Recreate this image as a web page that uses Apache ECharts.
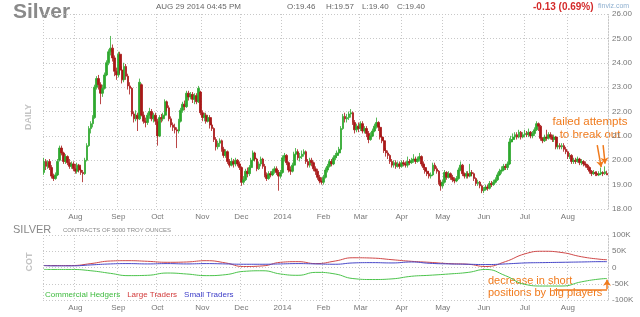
<!DOCTYPE html>
<html><head><meta charset="utf-8">
<script src="https://cdn.jsdelivr.net/npm/echarts@6/dist/echarts.min.js"></script>
<style>html,body{margin:0;padding:0;background:#fff}#c{width:640px;height:317px}</style>
</head><body><div id="c"></div>
<script>
const startDate = '2013-07-10', endDate = '2014-08-29';
const holidays = ['2013-09-02','2013-11-28','2013-12-25','2014-01-01','2014-01-20','2014-02-17','2014-04-18','2014-05-26','2014-07-04'];
const monthNames = ['Jan','Feb','Mar','Apr','May','Jun','Jul','Aug','Sep','Oct','Nov','Dec'];

// daily candles: [open, close, low, high]
const jul2013 = [[19.50,19.95,19.40,20.10],[19.95,19.75,19.60,20.05],[19.75,19.90,19.65,20.00],[19.95,19.70,19.60,20.05],[19.70,19.35,19.25,19.80],[19.35,19.25,19.15,19.45],[19.25,19.40,19.20,19.50],[19.40,19.95,19.35,20.05],[20.00,20.50,19.95,20.60],[20.50,20.30,20.20,20.60],[20.30,19.95,19.85,20.35],[19.95,20.15,19.85,20.25],[20.15,19.90,19.80,20.20],[19.90,19.75,19.65,20.05],[19.75,19.85,19.65,19.95],[19.85,19.65,19.55,19.95]];
const aug2013 = [[19.65,19.55,19.45,19.85],[19.55,19.80,19.45,19.90],[19.80,19.60,19.50,19.85],[19.60,19.50,19.40,19.70],[19.50,19.45,19.10,19.60],[19.45,20.00,19.40,20.10],[20.00,20.60,19.95,20.70],[20.60,21.30,20.55,21.40],[21.30,21.50,21.10,21.60],[21.50,21.75,21.35,21.85],[21.75,23.00,21.70,23.10],[23.00,23.35,22.90,23.45],[23.35,23.10,22.90,23.50],[23.10,22.75,22.30,23.20],[22.75,22.95,22.60,23.10],[22.95,23.50,22.90,23.60],[23.50,24.00,23.45,24.10],[24.00,24.45,23.90,24.55],[24.45,24.60,24.30,25.10],[24.60,24.20,24.05,24.75],[24.20,23.65,23.45,24.30],[23.65,23.50,23.30,23.80]];
const sep2013 = [[23.50,24.35,23.40,24.45],[24.35,23.70,23.55,24.45],[23.70,23.30,23.15,23.85],[23.30,23.85,23.20,24.00],[23.85,23.45,23.30,23.95],[23.45,23.05,22.90,23.55],[23.05,22.95,22.70,23.20],[22.95,21.90,21.80,23.00],[21.90,21.70,21.55,22.00],[21.70,21.85,21.60,22.05],[21.85,21.70,21.20,21.95],[21.70,23.20,21.65,23.35],[23.10,21.85,21.80,23.15],[21.85,21.60,21.50,22.00],[21.60,21.55,21.35,21.75],[21.55,21.85,21.45,21.95],[21.85,22.00,21.70,22.15],[22.00,21.70,21.60,22.10],[21.70,21.85,21.55,21.95],[21.85,21.60,21.45,21.95]];
const oct2013 = [[21.60,21.00,20.60,21.70],[21.00,21.75,20.95,21.85],[21.75,21.70,21.55,21.90],[21.70,21.85,21.60,21.95],[21.85,22.40,21.80,22.50],[22.40,22.15,22.00,22.45],[22.15,21.70,21.60,22.25],[21.70,21.45,21.35,21.80],[21.45,21.35,21.20,21.55],[21.35,21.25,21.10,21.50],[21.25,21.20,20.50,21.35],[21.20,21.60,21.10,21.70],[21.60,22.05,21.55,22.15],[22.05,22.30,21.95,22.40],[22.30,22.20,22.05,22.45],[22.20,22.75,22.15,22.85],[22.75,22.60,22.45,22.85],[22.60,22.70,22.50,22.80],[22.70,22.50,22.35,22.80],[22.50,22.65,22.30,22.75],[22.65,22.40,22.30,22.75],[22.40,22.95,22.35,23.05],[22.80,21.95,21.85,22.85]];
const nov2013 = [[21.95,21.75,21.60,22.05],[21.75,21.85,21.60,21.95],[21.85,21.60,21.50,21.95],[21.60,21.75,21.55,21.85],[21.75,21.45,21.30,21.85],[21.45,21.30,21.20,21.55],[21.30,20.85,20.75,21.35],[20.85,20.55,20.40,20.95],[20.55,20.70,20.45,20.80],[20.70,20.80,20.55,20.90],[20.80,20.45,20.35,20.85],[20.45,20.20,20.10,20.55],[20.20,20.35,20.10,20.45],[20.35,19.95,19.85,20.40],[19.95,19.80,19.70,20.05],[19.80,19.95,19.75,20.10],[19.95,19.85,19.70,20.05],[19.85,20.00,19.75,20.10],[20.00,19.85,19.75,20.05],[19.85,19.70,19.60,19.95]];
const dec2013 = [[19.70,19.10,18.95,19.75],[19.10,19.20,19.00,19.35],[19.20,19.55,19.15,19.65],[19.55,19.45,19.30,19.70],[19.45,19.70,19.35,19.80],[19.70,20.00,19.60,20.10],[20.00,20.30,19.95,20.40],[20.30,20.05,19.95,20.35],[20.05,19.65,19.55,20.10],[19.65,19.85,19.60,19.95],[19.85,20.05,19.75,20.15],[20.05,19.75,19.65,20.10],[19.75,19.40,19.30,19.85],[19.40,19.25,19.15,19.50],[19.25,19.45,19.20,19.55],[19.45,19.40,19.30,19.55],[19.40,19.55,19.35,19.65],[19.55,19.65,19.45,19.75],[19.65,19.50,19.40,19.75],[19.50,19.35,18.75,19.60],[19.35,19.50,19.25,19.60]];
const jan2014 = [[19.50,20.10,19.45,20.20],[20.10,20.20,19.95,20.30],[20.20,19.90,19.80,20.25],[19.90,19.60,19.50,19.95],[19.60,19.55,19.40,19.75],[19.55,19.80,19.50,19.90],[19.80,20.25,19.75,20.35],[20.25,20.35,20.15,20.50],[20.35,20.10,20.00,20.45],[20.10,20.15,19.95,20.30],[20.15,20.25,20.05,20.40],[20.25,20.35,20.15,20.45],[20.35,19.95,19.85,20.40],[19.95,19.80,19.70,20.05],[19.80,20.00,19.70,20.10],[20.00,19.90,19.75,20.10],[19.90,19.65,19.55,19.95],[19.65,19.55,19.40,19.75],[19.55,19.30,19.20,19.65],[19.30,19.15,19.05,19.40],[19.15,19.10,19.00,19.30]];
const feb2014 = [[19.10,19.30,19.00,19.40],[19.30,19.60,19.25,19.70],[19.60,19.75,19.50,19.85],[19.75,19.95,19.70,20.05],[19.95,19.85,19.75,20.05],[19.85,20.10,19.80,20.20],[20.10,20.20,20.00,20.30],[20.20,20.30,20.10,20.40],[20.30,20.45,20.20,20.55],[20.45,21.30,20.40,21.40],[21.30,21.80,21.25,21.90],[21.80,21.70,21.55,21.95],[21.70,21.75,21.55,21.90],[21.75,21.90,21.65,22.00],[21.90,21.95,21.75,22.10],[21.95,21.55,21.45,22.00],[21.55,21.25,21.10,21.65],[21.25,21.40,21.15,21.50],[21.40,21.30,21.15,21.55]];
const mar2014 = [[21.30,21.50,21.20,21.60],[21.50,21.20,21.10,21.60],[21.20,21.30,21.10,21.40],[21.30,21.10,20.95,21.40],[21.10,20.85,20.70,21.20],[20.85,21.00,20.80,21.15],[21.00,21.20,20.95,21.30],[21.20,21.40,21.15,21.50],[21.40,21.55,21.30,21.75],[21.55,21.35,21.20,21.60],[21.35,20.95,20.85,21.40],[20.95,20.80,20.70,21.05],[20.80,20.40,20.30,20.90],[20.40,20.30,20.15,20.50],[20.30,20.20,20.05,20.40],[20.20,19.95,19.85,20.25],[19.95,19.80,19.70,20.05],[19.80,19.90,19.70,20.00],[19.90,19.75,19.65,20.00],[19.75,19.85,19.70,19.95],[19.85,19.75,19.65,19.95]];
const apr2014 = [[19.75,19.90,19.70,20.00],[19.90,19.85,19.75,20.00],[19.85,19.80,19.70,19.95],[19.80,19.95,19.70,20.15],[19.95,19.90,19.80,20.05],[19.90,20.00,19.85,20.10],[20.00,20.05,19.90,20.25],[20.05,19.95,19.85,20.15],[19.95,20.05,19.90,20.15],[20.05,20.15,19.95,20.30],[20.15,19.85,19.75,20.20],[19.85,19.70,19.60,19.95],[19.70,19.55,19.45,19.80],[19.55,19.45,19.35,19.65],[19.45,19.35,19.25,19.55],[19.35,19.40,19.25,19.50],[19.40,19.80,19.35,19.90],[19.80,19.65,19.55,19.90],[19.65,19.55,19.45,19.75],[19.55,19.10,19.00,19.60],[19.10,18.95,18.75,19.20]];
const may2014 = [[18.95,19.10,18.85,19.20],[19.10,19.50,19.05,19.60],[19.50,19.30,19.20,19.55],[19.30,19.45,19.25,19.55],[19.45,19.30,19.20,19.50],[19.30,19.20,19.10,19.40],[19.20,19.15,19.05,19.30],[19.15,19.25,19.10,19.35],[19.25,19.60,19.20,19.70],[19.60,19.80,19.55,19.95],[19.80,19.45,19.35,19.85],[19.45,19.35,19.25,19.50],[19.35,19.45,19.25,19.55],[19.45,19.35,19.25,19.55],[19.35,19.50,19.30,19.85],[19.50,19.45,19.35,19.60],[19.45,19.25,19.15,19.50],[19.25,19.05,18.95,19.30],[19.05,19.10,18.95,19.20],[19.10,18.95,18.85,19.15],[18.95,18.75,18.65,19.00]];
const jun2014 = [[18.75,18.80,18.65,18.90],[18.80,18.90,18.75,19.00],[18.90,18.85,18.75,19.00],[18.85,19.05,18.80,19.15],[19.05,19.00,18.90,19.15],[19.00,19.10,18.95,19.20],[19.10,19.20,19.05,19.30],[19.20,19.40,19.15,19.50],[19.40,19.55,19.35,19.65],[19.55,19.60,19.45,19.75],[19.60,19.75,19.55,19.85],[19.75,19.70,19.60,19.85],[19.70,19.85,19.60,19.95],[19.85,20.75,19.80,20.90],[20.75,20.85,20.65,21.00],[20.85,20.95,20.75,21.10],[20.95,21.05,20.85,21.15],[21.05,20.95,20.85,21.15],[20.95,21.15,20.90,21.25],[21.15,20.95,20.85,21.20],[20.95,21.05,20.90,21.15]];
const jul2014 = [[21.05,21.10,20.95,21.25],[21.10,21.05,20.95,21.20],[21.05,21.15,20.95,21.30],[21.15,21.00,20.90,21.20],[21.00,21.10,20.90,21.20],[21.10,21.25,21.00,21.35],[21.25,21.50,21.20,21.60],[21.50,21.40,21.20,21.55],[21.40,20.90,20.80,21.45],[20.90,20.80,20.70,20.95],[20.80,20.95,20.75,21.05],[20.95,20.90,20.80,21.25],[20.90,21.05,20.85,21.15],[21.05,20.95,20.85,21.15],[20.95,20.85,20.75,21.05],[20.85,20.95,20.75,21.05],[20.95,20.55,20.45,21.00],[20.55,20.60,20.45,20.70],[20.60,20.55,20.45,20.70],[20.55,20.60,20.45,20.70],[20.60,20.45,20.35,20.70],[20.45,20.35,20.25,20.55]];
const aug2014 = [[20.35,20.15,20.05,20.40],[20.15,20.20,20.05,20.30],[20.20,19.95,19.85,20.25],[19.95,20.00,19.85,20.10],[20.00,19.95,19.85,20.10],[19.95,20.05,19.90,20.15],[20.05,19.90,19.80,20.10],[19.90,19.95,19.80,20.05],[19.95,19.85,19.75,20.00],[19.85,19.80,19.70,19.95],[19.80,19.70,19.60,19.85],[19.70,19.55,19.45,19.75],[19.55,19.45,19.35,19.60],[19.45,19.50,19.40,19.60],[19.50,19.45,19.35,19.55],[19.45,19.40,19.35,19.55],[19.40,19.45,19.35,19.55],[19.45,19.50,19.40,19.70],[19.50,19.45,19.35,19.55],[19.45,19.53,19.40,19.75],[19.46,19.40,19.40,19.57]];

// COT net positions (thousands of contracts)
const cotDates = ['2013-07-10','2013-07-16','2013-07-30','2013-08-13','2013-08-27','2013-09-10','2013-09-24','2013-10-08','2013-10-22','2013-11-05','2013-11-19','2013-12-03','2013-12-17','2013-12-31','2014-01-14','2014-01-28','2014-02-11','2014-02-25','2014-03-11','2014-03-25','2014-04-08','2014-04-22','2014-05-06','2014-05-20','2014-06-03','2014-06-17','2014-07-01','2014-07-15','2014-07-29','2014-08-12','2014-08-26','2014-08-29'];
const commercialHedgers = [-6,-6,-6,-10,-18,-25,-24,-17,-20,-25,-22,-12,-10,-20,-24,-15,-20,-34,-37,-35,-27,-24,-20,-15,-6,-25,-52,-57,-57,-44,-35,-34];
const largeTraders = [6,6,6,12,20,21,19,16,17,21,14,3,5,16,18,12,20,30,29,24,19,16,12,10,3,18,42,50,46,33,25,24];
const smallTraders = [6,5,5,8,11,12,11,12,11,12,11,10,10,11,12,11,10,14,15,14,17,13,11,10,9,11,14,15,16,17,18,18];

const priceTicks = {min: 18, max: 26, interval: 1};
const cotTicks = {min: -100, max: 100, interval: 50};
const lastClose = 19.40;

function tradingDays(s, e, hol) {
  const out = []; const d = new Date(s + 'T00:00:00Z'); const end = new Date(e + 'T00:00:00Z');
  while (d <= end) {
    const w = d.getUTCDay(); const str = d.toISOString().slice(0, 10);
    if (w !== 0 && w !== 6 && hol.indexOf(str) < 0) out.push(str);
    d.setUTCDate(d.getUTCDate() + 1);
  }
  return out;
}
const dates = tradingDays(startDate, endDate, holidays);
const candles = [].concat(jul2013, aug2013, sep2013, oct2013, nov2013, dec2013, jan2014, feb2014, mar2014, apr2014, may2014, jun2014, jul2014, aug2014);
const isMonthStart = i => i > 0 && dates[i].slice(5, 7) !== dates[i - 1].slice(5, 7);
const monthLabel = v => { const m = +v.slice(5, 7); return m === 1 ? v.slice(0, 4) : monthNames[m - 1]; };

const FF = '"Liberation Sans", Arial, sans-serif';
const GRIDC = '#c8c8c8';
const DOT = [1, 2];
const ORANGE = '#f07a1c';
const UP = '#2ea82e', DOWN = '#a81818';

function xAx(gi) {
  return {
    type: 'category', gridIndex: gi, data: dates, boundaryGap: true,
    axisLine: {show: false}, axisTick: {show: false},
    axisLabel: {interval: (i) => isMonthStart(i), formatter: monthLabel, color: '#777', fontSize: 8, margin: 4, fontFamily: FF},
    splitLine: {show: true, interval: (i) => i === 0 || isMonthStart(i), lineStyle: {color: GRIDC, type: DOT, width: 1}}
  };
}
function yAx(gi, t, fmt) {
  return {
    type: 'value', gridIndex: gi, position: 'right', min: t.min, max: t.max, interval: t.interval,
    axisLine: {show: true, lineStyle: {color: GRIDC, type: DOT}}, axisTick: {show: false},
    axisLabel: {formatter: fmt, color: '#777', fontSize: 8, margin: 4, fontFamily: FF},
    splitLine: {show: true, lineStyle: {color: GRIDC, type: DOT, width: 1}}
  };
}
const cotData = arr => cotDates.map((d, k) => [d, arr[k]]);

const chart = echarts.init(document.getElementById('c'), null, {renderer: 'canvas'});
chart.setOption({
  animation: false,
  backgroundColor: '#fff',
  textStyle: {fontFamily: FF},
  grid: [
    {left: 43, top: 14, width: 565, height: 195},
    {left: 43, top: 235, width: 565, height: 65}
  ],
  xAxis: [xAx(0), xAx(1)],
  yAxis: [yAx(0, priceTicks, v => v.toFixed(2)), yAx(1, cotTicks, v => v === 0 ? '0' : v + 'K')],
  legend: {
    left: 40, top: 291, icon: 'none', itemWidth: 0, itemHeight: 0, itemGap: 2, padding: 0,
    selectedMode: false,
    textStyle: {fontSize: 8, fontFamily: FF},
    data: [
      {name: 'Commercial Hedgers', textStyle: {color: '#3dbb3d'}},
      {name: 'Large Traders', textStyle: {color: '#d23a3a'}},
      {name: 'Small Traders', textStyle: {color: '#3c3cc8'}}
    ]
  },
  series: [
    {
      type: 'candlestick', xAxisIndex: 0, yAxisIndex: 0, data: candles, barWidth: 2.2,
      itemStyle: {color: UP, color0: DOWN, borderColor: UP, borderColor0: DOWN, borderWidth: 0.8},
      markLine: {
        silent: true, symbol: ['none', 'arrow'], symbolSize: 6, animation: false,
        label: {show: false},
        lineStyle: {color: ORANGE, width: 1.5, type: 'solid'},
        data: [
          [{coord: ['2014-08-22', 20.62]}, {coord: ['2014-08-26', 19.72]}],
          [{coord: ['2014-08-27', 20.62]}, {coord: ['2014-08-28', 19.86]}],
          {yAxis: lastClose, symbol: 'none', lineStyle: {opacity: 0},
           label: {show: true, position: 'end', distance: 3, formatter: lastClose.toFixed(2), backgroundColor: '#ffff00', color: '#333', fontSize: 8, padding: [2, 3, 1, 3], fontFamily: FF}}
        ]
      }
    },
    {
      name: 'Commercial Hedgers', type: 'line', xAxisIndex: 1, yAxisIndex: 1, data: cotData(commercialHedgers),
      smooth: true, showSymbol: false, lineStyle: {color: '#4cc44c', width: 1}, itemStyle: {color: '#4cc44c'},
      markLine: {
        silent: true, symbol: ['none', 'arrow'], symbolSize: 6, label: {show: false},
        lineStyle: {color: ORANGE, width: 1.5, type: 'solid'},
        data: [
          [{coord: ['2014-07-23', -67], symbol: 'none'}, {coord: ['2014-08-29', -67], symbol: 'none'}],
          [{coord: ['2014-08-29', -67]}, {coord: ['2014-08-29', -38]}]
        ]
      }
    },
    {
      name: 'Large Traders', type: 'line', xAxisIndex: 1, yAxisIndex: 1, data: cotData(largeTraders),
      smooth: true, showSymbol: false, lineStyle: {color: '#d04848', width: 1}, itemStyle: {color: '#d04848'}
    },
    {
      name: 'Small Traders', type: 'line', xAxisIndex: 1, yAxisIndex: 1, data: cotData(smallTraders),
      smooth: true, showSymbol: false, lineStyle: {color: '#4646c8', width: 1}, itemStyle: {color: '#4646c8'}
    }
  ],
  graphic: [
    {type: 'text', x: 13, y: 12, style: {text: 'Silver', font: 'bold 21px ' + FF, fill: '#8a8a8a', textVerticalAlign: 'middle'}},
    {type: 'text', x: 156, y: 7, style: {text: 'AUG 29 2014 04:45 PM', font: '8px ' + FF, fill: '#666', textVerticalAlign: 'middle'}},
    {type: 'text', x: 287, y: 7, style: {text: 'O:19.46', font: '8px ' + FF, fill: '#666', textVerticalAlign: 'middle'}},
    {type: 'text', x: 326, y: 7, style: {text: 'H:19.57', font: '8px ' + FF, fill: '#666', textVerticalAlign: 'middle'}},
    {type: 'text', x: 362, y: 7, style: {text: 'L:19.40', font: '8px ' + FF, fill: '#666', textVerticalAlign: 'middle'}},
    {type: 'text', x: 397, y: 7, style: {text: 'C:19.40', font: '8px ' + FF, fill: '#666', textVerticalAlign: 'middle'}},
    {type: 'text', x: 533, y: 7, style: {text: '-0.13 (0.69%)', font: 'bold 10px ' + FF, fill: '#d42a2a', textVerticalAlign: 'middle'}},
    {type: 'text', x: 598, y: 6, style: {text: 'finviz.com', font: '7px ' + FF, fill: '#8fb0d0', textVerticalAlign: 'middle'}},
    {type: 'text', x: 29, y: 117, rotation: Math.PI / 2, style: {text: 'DAILY', font: 'bold 9px ' + FF, fill: '#c4c4c4', textAlign: 'center', textVerticalAlign: 'middle'}},
    {type: 'text', x: 13, y: 229.5, style: {text: 'SILVER', font: '11px ' + FF, fill: '#888', textVerticalAlign: 'middle'}},
    {type: 'text', x: 63, y: 230, style: {text: 'CONTRACTS OF 5000 TROY OUNCES', font: '6px ' + FF, fill: '#888', textVerticalAlign: 'middle'}},
    {type: 'text', x: 30, y: 262, rotation: Math.PI / 2, style: {text: 'COT', font: 'bold 9px ' + FF, fill: '#c4c4c4', textAlign: 'center', textVerticalAlign: 'middle'}},
    {type: 'text', x: 590, y: 128, style: {text: 'failed attempts\nto break out', font: '11.5px ' + FF, fill: ORANGE, textAlign: 'center', textVerticalAlign: 'middle', lineHeight: 13}},
    {type: 'text', x: 488, y: 287, style: {text: 'decrease in short\npositions by big players', font: '11px ' + FF, fill: ORANGE, textAlign: 'left', textVerticalAlign: 'middle', lineHeight: 12}}
  ]
});
</script>
</body></html>
